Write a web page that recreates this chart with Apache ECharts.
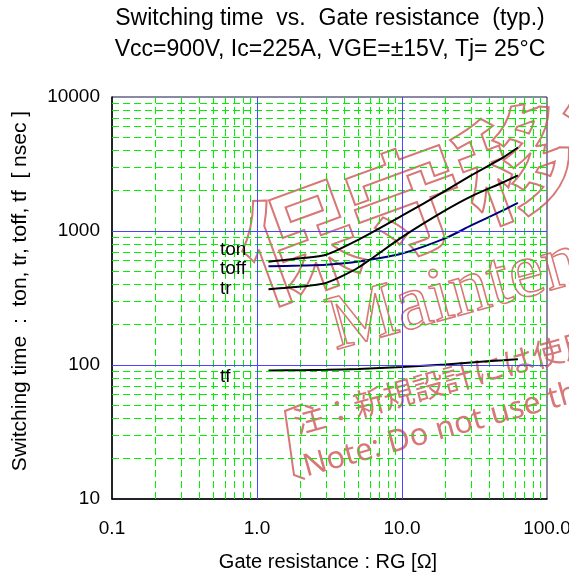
<!DOCTYPE html>
<html>
<head>
<meta charset="utf-8">
<script src="https://cdn.jsdelivr.net/npm/echarts@6/dist/echarts.min.js"></script>
<style>
html,body{margin:0;padding:0;background:#fff;}
#chart{width:569px;height:578px;}
</style>
</head>
<body>
<div id="chart"></div>
<script>
// ---- data ----
const rgOhm  = [1.2, 2, 3, 5, 10, 20, 30, 50, 63];
const tonNs  = [590, 625, 665, 860, 1300, 2000, 2600, 3550, 4200];
const toffNs = [545, 552, 560, 592, 680, 885, 1100, 1430, 1620];
const trNs   = [368, 385, 410, 534, 900, 1430, 1815, 2310, 2600];
const tfNs   = [91, 91.5, 92, 93.5, 96.5, 101, 104.5, 108.5, 110.5];

// grid positions
const majorX = [1, 10];
const majorY = [100, 1000];
const minorX = [0.2,0.3,0.4,0.5,0.6,0.7,0.8,0.9, 2,3,4,5,6,7,8,9, 20,30,40,50,60,70,80,90];
const minorY = [20,30,40,50,60,70,80,90, 200,300,400,500,600,700,800,900, 2000,3000,4000,5000,6000,7000,8000,9000];

const titleLines = ['Switching time  vs.  Gate resistance  (typ.)', 'Vcc=900V, Ic=225A, VGE=\u00b115V, Tj= 25\u00b0C'];
const xName = 'Gate resistance : RG [\u03a9]';
const yName = 'Switching time  :  ton, tr, toff, tf  [ nsec ]';
const curveLabels = ['ton', 'toff', 'tr', 'tf'];

const SANS = '"Liberation Sans", Arial, sans-serif';
const pairs = ys => rgOhm.map((x, i) => [x, ys[i]]);
const gridLines = (xs, ys) => xs.map(v => ({xAxis: v})).concat(ys.map(v => ({yAxis: v})));

function txt(text, x, y, size, opts) {
  opts = opts || {};
  return {
    type: 'text', x: x, y: y, rotation: opts.rotation || 0, z: opts.z || 10, silent: true,
    style: {
      text: text,
      font: (opts.weight ? opts.weight + ' ' : '') + size + 'px ' + (opts.family || SANS),
      fill: opts.fill || '#000',
      stroke: opts.stroke || null,
      lineWidth: opts.lineWidth || 0,
      textAlign: opts.align || 'left', align: opts.align || 'left',
      textVerticalAlign: 'middle', verticalAlign: 'middle'
    }
  };
}

const minorML = {silent: true, symbol: ['none', 'none'], label: {show: false},
  lineStyle: {color: '#00f000', type: [7, 4], width: 1}, data: gridLines(minorX, minorY)};
const majorML = {silent: true, symbol: ['none', 'none'], label: {show: false},
  lineStyle: {color: '#4646ff', type: 'solid', width: 1}, data: gridLines(majorX, majorY)};

const WM = 'rgba(205,85,85,0.8)';
const chart = echarts.init(document.getElementById('chart'), null, {renderer: 'canvas'});
chart.setOption({
  animation: false,
  backgroundColor: '#fff',
  grid: {left: 112, top: 97, width: 435, height: 402, show: true, borderColor: '#15154a', borderWidth: 1,
    backgroundColor: 'transparent', containLabel: false, outerBoundsMode: 'none'},
  xAxis: {
    type: 'log', logBase: 10, interval: 1, min: 0.1, max: 100,
    axisLine: {show: true, onZero: false, lineStyle: {color: '#000', width: 1.5}},
    axisTick: {show: false},
    splitLine: {show: false},
    axisLabel: {color: '#000', fontSize: 19, fontFamily: SANS, margin: 20,
      formatter: v => Number(v).toFixed(1)}
  },
  yAxis: {
    type: 'log', logBase: 10, interval: 1, min: 10, max: 10000,
    axisLine: {show: true, onZero: false, lineStyle: {color: '#000', width: 1.5}},
    axisTick: {show: false},
    splitLine: {show: false},
    axisLabel: {color: '#000', fontSize: 19, fontFamily: SANS, margin: 12,
      formatter: v => String(Math.round(v))}
  },
  series: [
    {name: 'tf', type: 'line', data: pairs(tfNs), showSymbol: false, smooth: 0.25, z: 3,
      lineStyle: {color: '#000', width: 2}, markLine: minorML},
    {name: 'toff', type: 'line', data: pairs(toffNs), showSymbol: false, smooth: 0.25, z: 4,
      lineStyle: {color: '#00007a', width: 2}, markLine: majorML},
    {name: 'ton', type: 'line', data: pairs(tonNs), showSymbol: false, smooth: 0.25, z: 5,
      lineStyle: {color: '#000', width: 2}},
    {name: 'tr', type: 'line', data: pairs(trNs), showSymbol: false, smooth: 0.25, z: 5,
      lineStyle: {color: '#000', width: 2}}
  ],
  graphic: [
    txt(titleLines[0], 330, 19, 23, {align: 'center'}),
    txt(titleLines[1], 330, 50, 23, {align: 'center'}),
    txt(xName, 328, 562, 20, {align: 'center'}),
    txt(yName, 20, 291, 21, {align: 'center', rotation: Math.PI / 2}),
    txt(curveLabels[0], 220, 250, 19),
    txt(curveLabels[1], 220, 269, 19),
    txt(curveLabels[2], 220, 289, 19),
    txt(curveLabels[3], 220, 377, 19),
    // watermark
    txt('\u4fdd\u5b88\u79fb\u884c\u6a5f\u7a2e', 244, 262, 116, {rotation: 0.35, weight: 'bold', family: '"Noto Sans CJK JP"', fill: 'rgba(0,0,0,0)', stroke: WM, lineWidth: 2, z: 3}),
    txt('Maintenance', 330, 330, 78, {rotation: 0.27, family: '"Liberation Serif", serif', fill: 'rgba(0,0,0,0)', stroke: WM, lineWidth: 1.6, z: 3}),
    txt('\u6ce8\uff1a\u65b0\u898f\u8a2d\u8a08\u306b\u306f\u4f7f\u7528\u3057\u306a\u3044\u3067\u304f\u3060\u3055\u3044', 294, 423, 31, {rotation: 0.27, family: '"Noto Sans CJK JP"', fill: WM, z: 3}),
    txt('Note: Do not use this product for new design.', 304, 468, 31, {rotation: 0.27, family: '"Noto Sans", sans-serif', fill: WM, z: 3}),
    {type: 'polyline', z: 3, silent: true, shape: {points: [[303, 404], [285, 411], [294, 475], [305, 479]]},
      style: {stroke: WM, lineWidth: 2, fill: null}}
  ]
});
</script>
</body>
</html>
